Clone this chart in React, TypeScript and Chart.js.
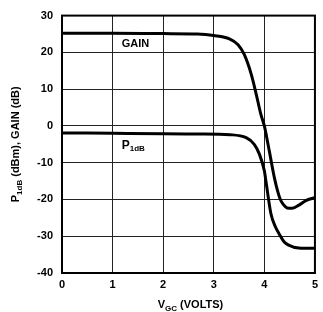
import React, { useEffect, useRef } from "react";
import { Chart, registerables } from "chart.js";

Chart.register(...registerables);

const xTicks = [0, 1, 2, 3, 4, 5];
const yTicks = [-40, -30, -20, -10, 0, 10, 20, 30];

const gainX = [0, 1, 2, 2.67, 3.0, 3.31, 3.48, 3.6, 3.74, 3.84, 3.93, 4.0, 4.1, 4.2, 4.26, 4.31, 4.37, 4.45, 4.55, 4.7, 4.82, 5.0];
const gainY = [25.2, 25.2, 25.1, 25.0, 24.6, 23.7, 22.1, 19.5, 14.1, 8.6, 3.2, 0, -7.0, -14.2, -17.6, -19.8, -21.3, -22.3, -22.4, -21.4, -20.3, -19.5];

const p1dbX = [0, 1, 2, 2.67, 3.32, 3.64, 3.8, 3.9, 4.0, 4.03, 4.13, 4.22, 4.29, 4.39, 4.48, 4.68, 5.0];
const p1dbY = [-1.9, -2.0, -2.1, -2.2, -2.4, -3.2, -5.0, -7.6, -12.2, -14.9, -23.9, -27.5, -29.3, -31.5, -32.4, -33.2, -33.3];

const FONT = "'Liberation Sans', Arial, sans-serif";

type Seg = { t: string; sub?: boolean };

function segWidth(ctx: CanvasRenderingContext2D, segs: Seg[], size: number, subSize: number) {
  let w = 0;
  for (const s of segs) {
    ctx.font = `bold ${s.sub ? subSize : size}px ${FONT}`;
    w += ctx.measureText(s.t).width;
  }
  return w;
}

function drawSegs(ctx: CanvasRenderingContext2D, segs: Seg[], x: number, y: number, size: number, subSize: number, subOff: number) {
  let cx = x;
  ctx.textBaseline = "alphabetic";
  ctx.textAlign = "left";
  for (const s of segs) {
    ctx.font = `bold ${s.sub ? subSize : size}px ${FONT}`;
    ctx.fillText(s.t, cx, s.sub ? y + subOff : y);
    cx += ctx.measureText(s.t).width;
  }
}

const textPlugin = {
  id: "textPlugin",
  afterDraw(chart: any) {
    const ctx: CanvasRenderingContext2D = chart.ctx;
    const { left, right, top, bottom } = chart.chartArea;
    const xs = chart.scales.x;
    const ys = chart.scales.y;
    ctx.save();
    ctx.strokeStyle = "#000";
    ctx.lineWidth = 2;
    ctx.strokeRect(left, top, right - left, bottom - top);
    ctx.fillStyle = "#000";

    // series labels
    drawSegs(ctx, [{ t: "GAIN" }], xs.getPixelForValue(1.18), ys.getPixelForValue(21.4), 11, 8, 0);
    drawSegs(ctx, [{ t: "P" }, { t: "1dB", sub: true }], xs.getPixelForValue(1.18), ys.getPixelForValue(-6.2), 12, 8, 2);

    // x title
    const xSegs: Seg[] = [{ t: "V" }, { t: "GC", sub: true }, { t: " (VOLTS)" }];
    const xw = segWidth(ctx, xSegs, 11, 8);
    drawSegs(ctx, xSegs, (left + right) / 2 + 2 - xw / 2, 308, 11, 8, 3);

    // y title
    const ySegs: Seg[] = [{ t: "P" }, { t: "1dB", sub: true }, { t: " (dBm), GAIN (dB)" }];
    const yw = segWidth(ctx, ySegs, 11, 8);
    ctx.translate(19, (top + bottom) / 2);
    ctx.rotate(-Math.PI / 2);
    drawSegs(ctx, ySegs, -yw / 2, 0, 11, 8, 3);
    ctx.restore();
  },
};

export default function App() {
  const ref = useRef<HTMLCanvasElement>(null);
  useEffect(() => {
    document.body.style.margin = "0";
    const canvas = ref.current!;
    const chart = new Chart(canvas, {
      type: "line",
      data: {
        datasets: [
          {
            label: "GAIN",
            data: gainX.map((x, i) => ({ x, y: gainY[i] })),
            borderColor: "#000",
            borderWidth: 3,
            pointRadius: 0,
            cubicInterpolationMode: "monotone",
            fill: false,
          },
          {
            label: "P1dB",
            data: p1dbX.map((x, i) => ({ x, y: p1dbY[i] })),
            borderColor: "#000",
            borderWidth: 3,
            pointRadius: 0,
            cubicInterpolationMode: "monotone",
            fill: false,
          },
        ],
      },
      options: {
        responsive: false,
        animation: false,
        devicePixelRatio: 1,
        layout: { padding: { top: 14, right: 3, left: 0, bottom: 0 } },
        plugins: { legend: { display: false }, tooltip: { enabled: false } },
        scales: {
          x: {
            type: "linear",
            min: xTicks[0],
            max: xTicks[xTicks.length - 1],
            afterBuildTicks: (s: any) => {
              s.ticks = xTicks.map((v) => ({ value: v }));
            },
            afterFit: (s: any) => {
              s.height = 39;
            },
            ticks: {
              color: "#000",
              font: { family: FONT, weight: "bold", size: 11 },
              padding: 5,
              maxRotation: 0,
              callback: (v: any) => String(v),
            },
            grid: { color: "#222", lineWidth: 1, drawTicks: false },
            border: { display: false },
          },
          y: {
            type: "linear",
            min: yTicks[0],
            max: yTicks[yTicks.length - 1],
            afterBuildTicks: (s: any) => {
              s.ticks = yTicks.map((v) => ({ value: v }));
            },
            afterFit: (s: any) => {
              s.width = 62;
            },
            ticks: {
              color: "#000",
              font: { family: FONT, weight: "bold", size: 11 },
              padding: 9,
              callback: (v: any) => String(v),
            },
            grid: { color: "#222", lineWidth: 1, drawTicks: false },
            border: { display: false },
          },
        },
      },
      plugins: [textPlugin],
    } as any);
    return () => chart.destroy();
  }, []);
  return (
    <div style={{ width: 323, height: 312 }}>
      <canvas ref={ref} width={323} height={312} style={{ display: "block" }} />
    </div>
  );
}
